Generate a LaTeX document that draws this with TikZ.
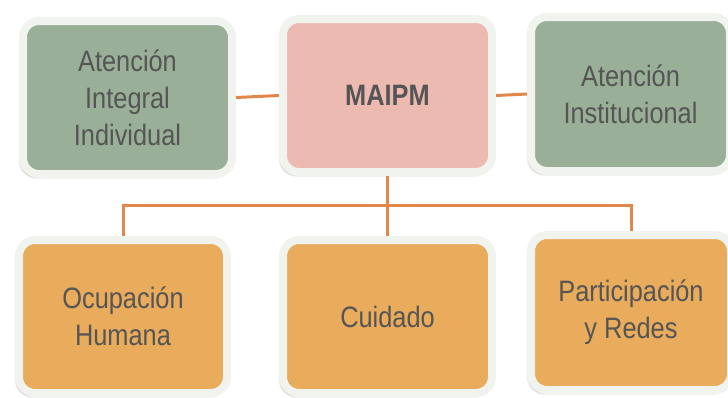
\documentclass[tikz,border=0pt]{standalone}
\usepackage{fontspec}
\setmainfont{Liberation Sans}[FakeStretch=0.86]
\usetikzlibrary{shadows.blur}
\definecolor{frame}{HTML}{F1F4EE}
\definecolor{greenbox}{HTML}{99AF97}
\definecolor{pinkbox}{HTML}{EDBAB1}
\definecolor{orangebox}{HTML}{E9AB5C}
\definecolor{conn}{HTML}{E2874A}
\definecolor{txt}{HTML}{555555}
\tikzset{
  card/.style={draw=frame, line width=8pt, rounded corners=16pt, inner sep=0pt,
    align=center, text=txt, font=\fontsize{29.5}{37}\selectfont,
    minimum width=209pt, minimum height=153pt,
    blur shadow={shadow xshift=-2.5pt, shadow yshift=-3pt, shadow opacity=40, shadow blur steps=6}},
  greencard/.style={card, fill=greenbox},
  pinkcard/.style={card, fill=pinkbox},
  orangecard/.style={card, fill=orangebox},
  link/.style={draw=conn, line width=3pt}
}
\begin{document}
\begin{tikzpicture}[x=1pt,y=-1pt]
\useasboundingbox (0,0) rectangle (728,397);
\node[greencard] (b1) at (127.5,97.5) {Atención\\Integral\\Individual};
\node[pinkcard] (m) at (387.5,95.5) {\bfseries MAIPM};
\node[greencard, minimum width=199pt, minimum height=154pt] (ai) at (630.5,94) {Atención\\Institucional};
\node[orangecard, minimum width=208pt] (o) at (123,316.5) {Ocupación\\Humana};
\node[orangecard] (c) at (387.5,316.5) {Cuidado};
\node[orangecard, minimum width=200pt, minimum height=155pt] (p) at (631,312.5) {Participación\\y Redes};
\coordinate (bus) at (0,205);
\draw[link] (b1.east) -- (m.west);
\draw[link] (m.east) -- (ai.west);
\draw[link] (m.south) -- (c.north);
\draw[link] (o.north) |- (bus -| m.south) -| (p.north);
\end{tikzpicture}
\end{document}
